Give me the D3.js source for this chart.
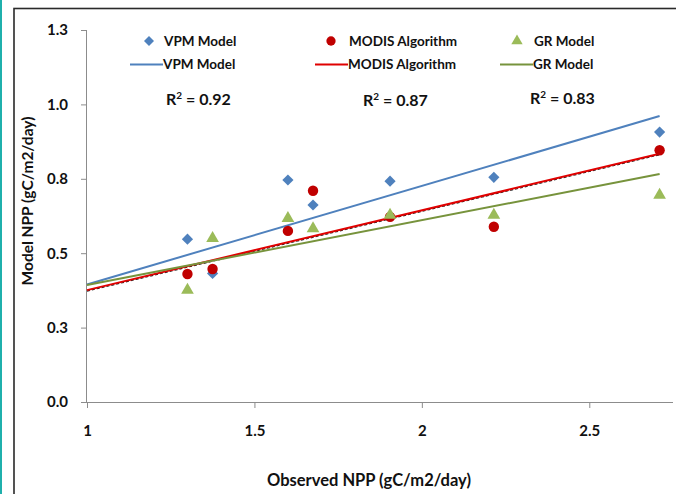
<!DOCTYPE html>
<html>
<head>
<meta charset="utf-8">
<script src="https://cdn.jsdelivr.net/npm/d3@7"></script>
<style>
  body { margin: 0; background: #fff; }
  svg { display: block; font-family: Lato, "Open Sans", sans-serif; }
</style>
</head>
<body>
<div id="chart"></div>
<script>
// observed NPP for each site
let observed = [1.3, 1.375, 1.6, 1.675, 1.905, 2.215, 2.71];
// modelled NPP, one list per model
let vpmValues = [0.547, 0.432, 0.746, 0.662, 0.742, 0.755, 0.907];
let modisValues = [0.43, 0.447, 0.575, 0.71, 0.622, 0.589, 0.846];
let grValues = [0.376, 0.55, 0.617, 0.583, 0.628, 0.628, 0.695];

// trendlines as drawn: [slope, intercept]
let vpmFit = [0.331, 0.064];
let modisFit = [0.268, 0.108];
let grFit = [0.218, 0.175];

let r2Labels = ["0.92", "0.87", "0.83"];
let yTicks = [0, 0.25, 0.5, 0.75, 1.0, 1.25];
let xTicks = [1, 1.5, 2, 2.5];

let seriesList = [
  { name: "VPM Model", values: vpmValues, fit: vpmFit, color: "#4F81BD", line: "#4F81BD", shape: d3.symbolDiamond2, size: 80 },
  { name: "MODIS Algorithm", values: modisValues, fit: modisFit, color: "#C00000", line: "#E00000", shape: d3.symbolCircle, size: 85 },
  { name: "GR Model", values: grValues, fit: grFit, color: "#9BBB59", line: "#77933C", shape: d3.symbolTriangle, size: 70 },
];

const width = 676;
const height = 494;
const margin = { left: 87, right: 3, top: 30, bottom: 92 };

let svg = d3
  .select("#chart")
  .append("svg")
  .attr("width", width)
  .attr("height", height);

// teal edge and frame
svg.append("rect").attr("x", 0).attr("y", 0).attr("width", 2).attr("height", height).attr("fill", "#1FB0AC");
svg
  .append("rect")
  .attr("x", 14)
  .attr("y", 8.5)
  .attr("width", 720)
  .attr("height", 600)
  .attr("fill", "none")
  .attr("stroke", "#2a2a2a")
  .attr("stroke-width", 1.6);

let x = d3.scaleLinear().domain([1, 2.75]).range([margin.left, width - margin.right]);
let y = d3.scaleLinear().domain([0, 1.25]).range([402, 30]);

const xAxis = svg.append("g").attr("transform", "translate(0,402)");
xAxis
  .call(d3.axisBottom(x).tickValues(xTicks).tickSize(6).tickPadding(17).tickFormat((d) => d3.format("")(d)))
  .call((g) => {
    g.select(".domain").attr("stroke", "#8c8c8c").attr("d", `M${margin.left},0.5H${width - margin.right}`);
    g.selectAll(".tick line").attr("stroke", "#8c8c8c");
  });

const yAxis = svg.append("g").attr("transform", `translate(${margin.left},0)`);
yAxis
  .call(d3.axisLeft(y).tickValues(yTicks).tickSize(6).tickPadding(13).tickFormat(d3.format(".1f")))
  .call((g) => {
    g.select(".domain").attr("stroke", "#8c8c8c").attr("d", "M-0.5,30V402");
    g.selectAll(".tick line").attr("stroke", "#8c8c8c");
  });

svg.selectAll(".tick text")
  .style("font-family", "Lato, sans-serif")
  .style("font-weight", "bold")
  .style("font-size", "15px")
  .style("fill", "#111");

// axis titles
svg
  .append("text")
  .text("Observed NPP (gC/m2/day)")
  .attr("x", 369)
  .attr("y", 486)
  .style("text-anchor", "middle")
  .style("font-weight", "bold")
  .style("font-size", "16.5px")
  .style("fill", "#111");

svg
  .append("text")
  .text("Model NPP (gC/m2/day)")
  .attr("transform", "translate(33,201) rotate(-90)")
  .style("text-anchor", "middle")
  .style("font-weight", "bold")
  .style("font-size", "15.5px")
  .style("fill", "#111");

// trendlines
let xEnds = [1, d3.max(observed)];
seriesList.forEach((s, i) => {
  let pts = xEnds.map((v) => [x(v), y(s.fit[0] * v + s.fit[1])]);
  if (i === 1) {
    svg
      .append("path")
      .attr("d", d3.line()(pts))
      .attr("transform", "translate(0,1)")
      .attr("stroke", "#222")
      .attr("stroke-width", 1.2)
      .attr("stroke-dasharray", "3,2")
      .attr("fill", "none");
  }
  svg
    .append("path")
    .attr("d", d3.line()(pts))
    .attr("stroke", s.line)
    .attr("stroke-width", 2)
    .attr("fill", "none");
});

// points
seriesList.forEach((s) => {
  svg
    .append("g")
    .selectAll("path")
    .data(s.values)
    .enter()
    .append("path")
    .attr("d", d3.symbol().type(s.shape).size(s.size))
    .attr("transform", (d, i) => `translate(${x(observed[i])},${y(d)})`)
    .attr("fill", s.color);
});

// legend
let legendX = [149, 331, 517];
let legendText = [164, 349, 534];
seriesList.forEach((s, i) => {
  svg
    .append("path")
    .attr("d", d3.symbol().type(s.shape).size(s.size * 0.8))
    .attr("transform", `translate(${legendX[i]},41)`)
    .attr("fill", s.color);
  svg
    .append("text")
    .text(s.name)
    .attr("x", legendText[i])
    .attr("y", 45.5)
    .style("font-weight", "bold")
    .style("font-size", "13.5px")
    .style("fill", "#111");
  svg
    .append("line")
    .attr("x1", legendText[i] - 34)
    .attr("x2", legendText[i] - 1)
    .attr("y1", 64.5)
    .attr("y2", 64.5)
    .attr("stroke", s.line)
    .attr("stroke-width", 2);
  svg
    .append("text")
    .text(s.name)
    .attr("x", legendText[i] - 1)
    .attr("y", 69)
    .style("font-weight", "bold")
    .style("font-size", "13.5px")
    .style("fill", "#111");
});

// R squared labels
let r2X = [166, 363, 530];
let r2Y = [105, 106, 104];
r2Labels.forEach((r, i) => {
  let t = svg
    .append("text")
    .attr("x", r2X[i])
    .attr("y", r2Y[i])
    .style("font-weight", "bold")
    .style("font-size", "16px")
    .style("fill", "#111");
  t.append("tspan").text("R");
  t.append("tspan").text("2").attr("dy", -6).style("font-size", "10px");
  t.append("tspan").text(" = " + r).attr("dy", 6);
});
</script>
</body>
</html>
